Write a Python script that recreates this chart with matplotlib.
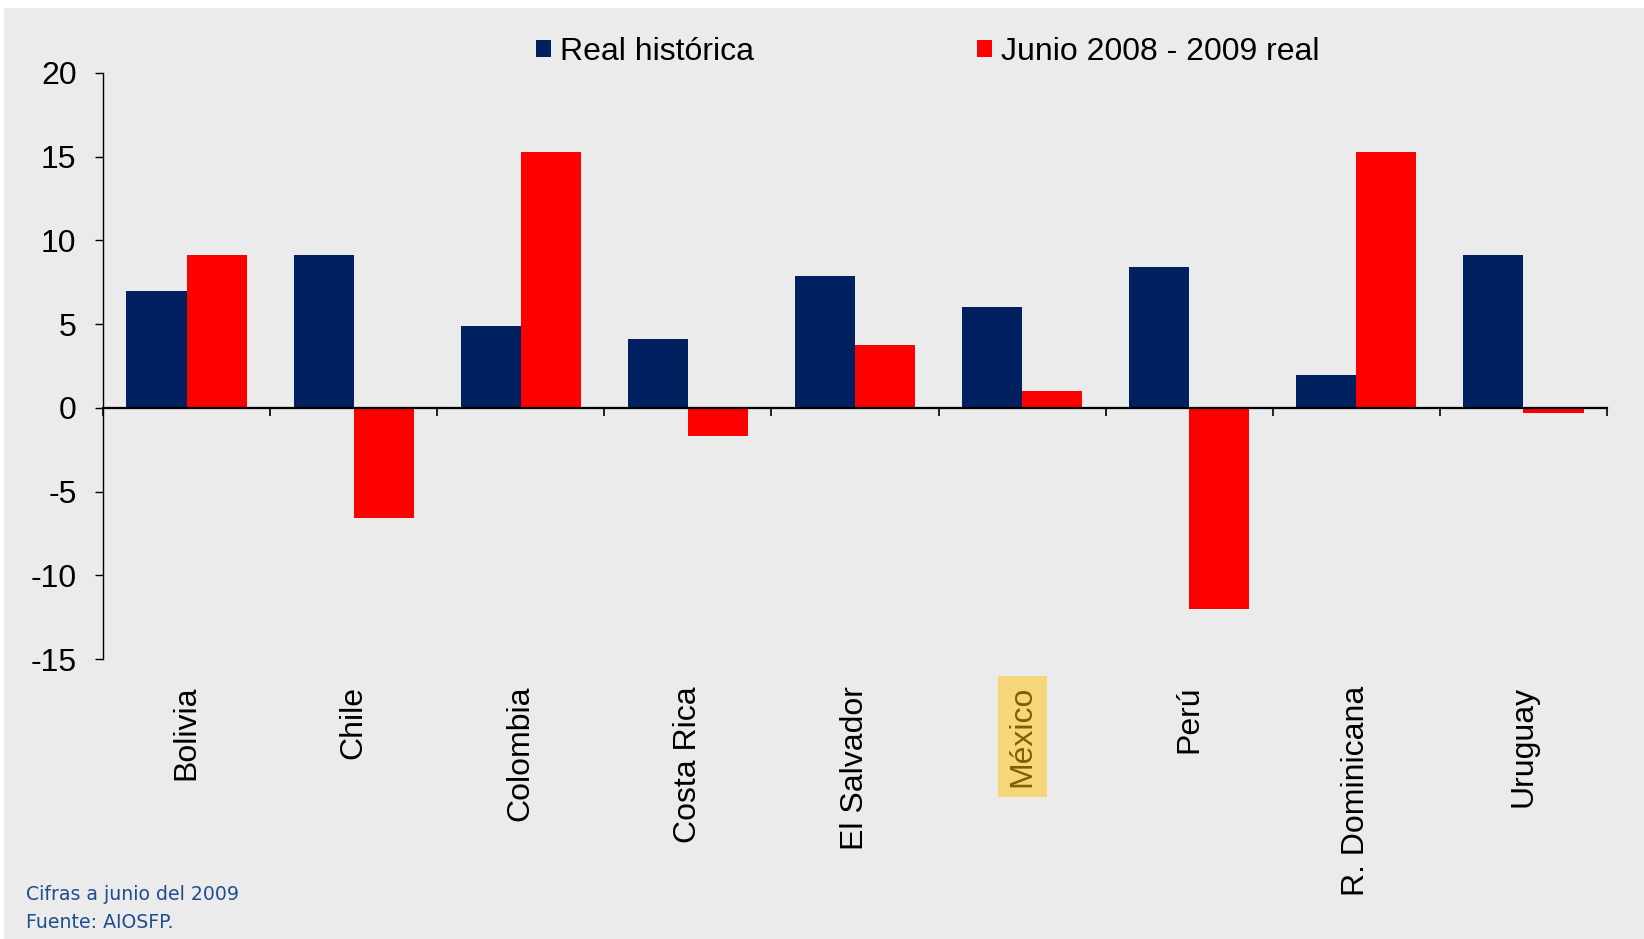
import matplotlib
matplotlib.use("Agg")
import matplotlib.pyplot as plt
from matplotlib.patches import Rectangle, Patch
import numpy as np

paises = ["Bolivia", "Chile", "Colombia", "Costa Rica", "El Salvador",
          "México", "Perú", "R. Dominicana", "Uruguay"]
real_historica = [7.0, 9.1, 4.9, 4.1, 7.9, 6.0, 8.4, 1.95, 9.1]
junio_2008_2009 = [9.1, -6.6, 15.3, -1.7, 3.75, 1.0, -12.0, 15.3, -0.3]
yticks = [-15, -10, -5, 0, 5, 10, 15, 20]

azul = "#002060"
rojo = "#ff0000"
fondo = "#ebebeb"

W, H = 1644, 939
fig = plt.figure(figsize=(W / 100, H / 100), dpi=100, facecolor="white")
# panel gris detras de todo
fig.add_artist(Rectangle((4 / W, 0), 1, 1 - 8 / H, transform=fig.transFigure,
                         facecolor=fondo, edgecolor="none", zorder=-10))

ax = fig.add_axes([103 / W, 1 - 659 / H, (1607 - 103) / W, (659 - 73) / H])
ax.patch.set_visible(False)

x = np.arange(len(paises))
ancho = 0.36
ax.bar(x - ancho / 2, real_historica, ancho, color=azul, label="Real histórica", zorder=2)
ax.bar(x + ancho / 2, junio_2008_2009, ancho, color=rojo, label="Junio 2008 - 2009 real", zorder=2)

ax.set_xlim(-0.5, len(paises) - 0.5)
ax.set_ylim(-15, 20)
ax.set_yticks(yticks)
ax.set_yticklabels([str(v) for v in yticks], fontsize=23, family="Liberation Sans")
ax.tick_params(axis="y", direction="out", length=6, width=1.0, pad=13)

for s in ["top", "right"]:
    ax.spines[s].set_visible(False)
ax.spines["left"].set_linewidth(1.0)
ax.spines["bottom"].set_position(("data", 0))
ax.spines["bottom"].set_linewidth(1.6)
ax.spines["bottom"].set_zorder(3)

ax.set_xticks(np.arange(len(paises) + 1) - 0.5)
ax.set_xticklabels([])
ax.tick_params(axis="x", direction="out", length=6, width=1.2)

for i, p in enumerate(paises):
    kw = {}
    color = "black"
    if p == "México":
        color = "#7f6000"
        kw["bbox"] = dict(boxstyle="square,pad=0.3", facecolor="#f5d67a", edgecolor="none")
    ax.text(i, -0.046, p, transform=ax.get_xaxis_transform(), rotation=90,
            ha="center", va="top", fontsize=23, family="Liberation Sans", color=color, **kw)

handles = [Patch(facecolor=azul), Patch(facecolor=rojo)]
fig.legend(handles, ["Real histórica", "Junio 2008 - 2009 real"], ncol=2,
           loc="center left", bbox_to_anchor=(536 / W, 1 - 52 / H),
           bbox_transform=fig.transFigure, frameon=False, borderpad=0,
           borderaxespad=0, handlelength=0.46, handleheight=0.46,
           handletextpad=0.28, columnspacing=7.0,
           prop={"family": "Liberation Sans", "size": 23})

fig.text(26 / W, 1 - 895 / H, "Cifras a junio del 2009", fontsize=13.6,
         color="#1f4e8c", family="DejaVu Sans", va="center", ha="left")
fig.text(26 / W, 1 - 922 / H, "Fuente: AIOSFP.", fontsize=13.6,
         color="#1f4e8c", family="DejaVu Sans", va="center", ha="left")

fig.savefig("out.png", dpi=100, facecolor="white")
